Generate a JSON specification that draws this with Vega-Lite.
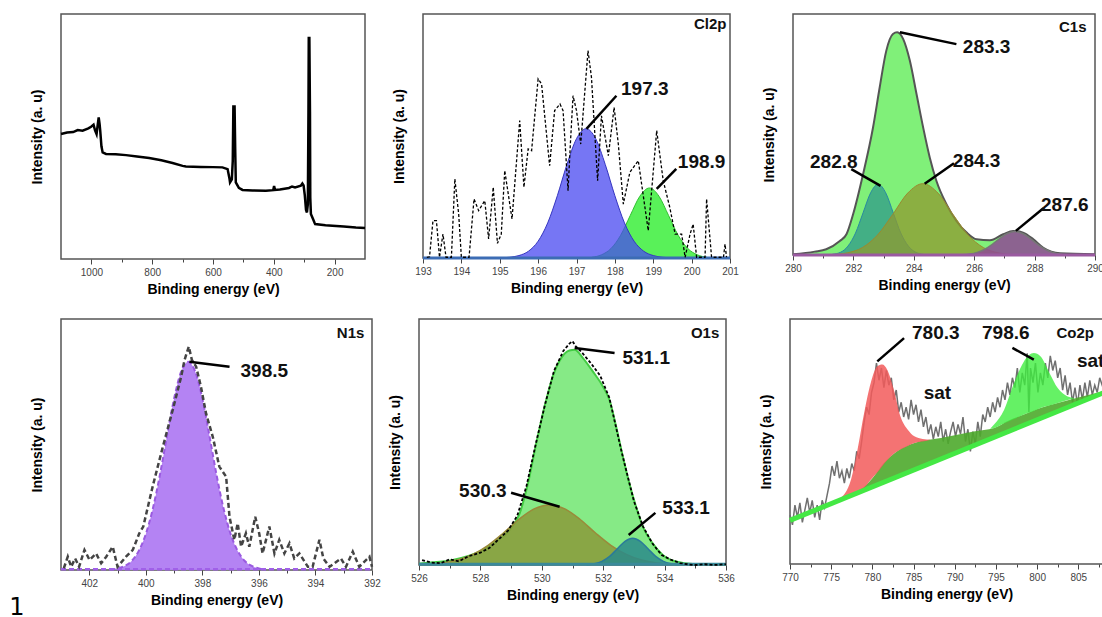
{
 "$schema": "https://vega.github.io/schema/vega-lite/v6.json",
 "background": "white",
 "padding": {"left": 9, "top": 13, "right": 0, "bottom": 0},
 "config": {
  "font": "Liberation Sans",
  "view": {"stroke": "#555", "strokeWidth": 1.5},
  "axis": {"grid": false, "domain": false, "titleFontSize": 14, "titleFontWeight": "bold", "titleColor": "#000", "labelFontSize": 10, "labelColor": "#444", "tickColor": "#444", "labelOverlap": false, "labelFlush": false},
  "axisY": {"labels": false, "ticks": false, "titlePadding": 17},
  "axisX": {"titlePadding": 5, "labelPadding": 3}
 },
 "title": {"text": "1", "orient": "bottom", "anchor": "start", "fontSize": 24, "fontWeight": "normal", "font": "DejaVu Sans", "color": "#000", "dx": -20, "dy": -16},
 "datasets": {
  "survey": [{"e":1100,"v":51},{"e":1080,"v":51.6},{"e":1060,"v":51.8},{"e":1045,"v":52.6},{"e":1029,"v":52.4},{"e":1010,"v":53.3},{"e":1001,"v":54},{"e":993,"v":54.8},{"e":988,"v":52.5},{"e":983,"v":51},{"e":980,"v":54},{"e":976,"v":57.8},{"e":973,"v":55},{"e":971,"v":52.4},{"e":967,"v":46},{"e":963,"v":43.5},{"e":952,"v":42.9},{"e":920,"v":42.8},{"e":886,"v":42.4},{"e":850,"v":41.8},{"e":810,"v":41.2},{"e":770,"v":40.3},{"e":733,"v":39.2},{"e":700,"v":38},{"e":689,"v":37.8},{"e":640,"v":37.6},{"e":600,"v":37.5},{"e":569,"v":37.4},{"e":552,"v":36.7},{"e":546,"v":33},{"e":544,"v":31.3},{"e":538,"v":32.5},{"e":535,"v":40},{"e":533,"v":62.2},{"e":529,"v":62.2},{"e":527,"v":45},{"e":525,"v":31.3},{"e":515,"v":29},{"e":503,"v":28.2},{"e":470,"v":28},{"e":426,"v":27.9},{"e":402,"v":28.1},{"e":399,"v":29.8},{"e":396,"v":28.2},{"e":380,"v":28.4},{"e":350,"v":29.0},{"e":340,"v":29.6},{"e":330,"v":29.2},{"e":311,"v":29.9},{"e":306,"v":30.8},{"e":302,"v":30},{"e":298,"v":26},{"e":294,"v":20},{"e":291,"v":19},{"e":288,"v":22.4},{"e":286,"v":60},{"e":285,"v":90.2},{"e":283,"v":90.2},{"e":281,"v":60},{"e":280,"v":25},{"e":278,"v":18.4},{"e":271,"v":16.3},{"e":266,"v":14.8},{"e":264,"v":14.3},{"e":230,"v":13.8},{"e":207,"v":13.6},{"e":170,"v":13.3},{"e":130,"v":12.9},{"e":100,"v":12.7}],
  "clRaw": [{"e":193.1,"v":0.3},{"e":193.17,"v":0.5},{"e":193.26,"v":15.3},{"e":193.35,"v":15.3},{"e":193.43,"v":0.3},{"e":193.52,"v":9.8},{"e":193.6,"v":0.3},{"e":193.74,"v":0.3},{"e":193.83,"v":32.4},{"e":193.93,"v":18},{"e":194.0,"v":0.3},{"e":194.2,"v":0.3},{"e":194.33,"v":24.2},{"e":194.45,"v":19.4},{"e":194.61,"v":23.5},{"e":194.71,"v":7.8},{"e":194.83,"v":29},{"e":194.94,"v":6},{"e":195.04,"v":9.8},{"e":195.13,"v":35.8},{"e":195.32,"v":16},{"e":195.52,"v":56.3},{"e":195.63,"v":29},{"e":195.74,"v":44.7},{"e":195.83,"v":44},{"e":196.0,"v":73.4},{"e":196.09,"v":71.3},{"e":196.3,"v":37.8},{"e":196.43,"v":60.4},{"e":196.57,"v":63.1},{"e":196.65,"v":60.4},{"e":196.78,"v":27.6},{"e":196.84,"v":46.7},{"e":196.91,"v":66.5},{"e":197.0,"v":60.4},{"e":197.11,"v":46.7},{"e":197.3,"v":85},{"e":197.39,"v":74},{"e":197.55,"v":31.7},{"e":197.65,"v":58.3},{"e":197.83,"v":41.9},{"e":197.98,"v":61.7},{"e":198.09,"v":46.7},{"e":198.22,"v":22.1},{"e":198.39,"v":35.1},{"e":198.61,"v":39.9},{"e":198.87,"v":11.2},{"e":199.09,"v":52.2},{"e":199.26,"v":31.7},{"e":199.43,"v":20.8},{"e":199.57,"v":9.8},{"e":199.74,"v":9.8},{"e":199.83,"v":0.3},{"e":199.96,"v":9.8},{"e":200.04,"v":13.9},{"e":200.13,"v":0.3},{"e":200.35,"v":0.3},{"e":200.39,"v":24.2},{"e":200.52,"v":0.3},{"e":200.83,"v":0.3},{"e":200.87,"v":5.7},{"e":200.91,"v":0.3}],
  "clBlue": [{"e":195.0,"v":0.07},{"e":195.25,"v":0.3},{"e":195.5,"v":1.0},{"e":195.75,"v":2.8},{"e":196.0,"v":6.9},{"e":196.25,"v":14.4},{"e":196.5,"v":25.5},{"e":196.75,"v":38.3},{"e":197.0,"v":48.9},{"e":197.25,"v":53},{"e":197.5,"v":48.9},{"e":197.75,"v":38.3},{"e":198.0,"v":25.5},{"e":198.25,"v":14.4},{"e":198.5,"v":6.9},{"e":198.75,"v":2.8},{"e":199.0,"v":1.0},{"e":199.25,"v":0.3},{"e":199.5,"v":0.07}],
  "clGreen": [{"e":197.4,"v":0.3},{"e":197.65,"v":1.3},{"e":197.9,"v":3.9},{"e":198.15,"v":9.3},{"e":198.4,"v":17.4},{"e":198.65,"v":25.3},{"e":198.9,"v":28.7},{"e":199.15,"v":25.3},{"e":199.4,"v":17.4},{"e":199.65,"v":9.3},{"e":199.9,"v":3.9},{"e":200.15,"v":1.3},{"e":200.4,"v":0.3}],
  "clBase": [{"e":193,"v":0},{"e":201,"v":0}],
  "clText": [{"e":198.78,"v":69.3,"t":"197.3"},{"e":200.26,"v":39.2,"t":"198.9"}],
  "clLead": [{"e":198.04,"v":66.5,"e2":197.26,"v2":52.9},{"e":199.6,"v":36.5,"e2":199.09,"v2":28.3}],
  "clName": [{"e":200.91,"v":95.9,"t":"Cl2p"}],
  "cEnv": [{"e":280,"v":0.3},{"e":280.72,"v":1.4},{"e":281.1,"v":2.4},{"e":281.55,"v":5.8},{"e":281.77,"v":8.6},{"e":281.99,"v":16.9},{"e":282.32,"v":33.5},{"e":282.65,"v":52.9},{"e":282.87,"v":69.5},{"e":283.09,"v":84.8},{"e":283.31,"v":91.7},{"e":283.45,"v":92.4},{"e":283.65,"v":89.6},{"e":283.87,"v":80.6},{"e":284.09,"v":66.8},{"e":284.31,"v":52.9},{"e":284.53,"v":40.4},{"e":284.75,"v":30.7},{"e":285.08,"v":21.1},{"e":285.41,"v":14.1},{"e":285.75,"v":9.3},{"e":286.08,"v":6.5},{"e":286.52,"v":6.1},{"e":286.96,"v":8.6},{"e":287.29,"v":10.0},{"e":287.62,"v":9.3},{"e":287.96,"v":6.5},{"e":288.29,"v":3.0},{"e":288.84,"v":0.7},{"e":290,"v":0.3}],
  "cTeal": [{"e":281.3,"v":0.3},{"e":281.57,"v":1.1},{"e":281.82,"v":3.7},{"e":282.07,"v":9.1},{"e":282.32,"v":17.5},{"e":282.57,"v":25.8},{"e":282.82,"v":29.4},{"e":283.07,"v":25.8},{"e":283.32,"v":17.5},{"e":283.57,"v":9.1},{"e":283.82,"v":3.7},{"e":284.07,"v":1.1},{"e":284.32,"v":0.3}],
  "cOlive": [{"e":281.3,"v":0.2},{"e":281.8,"v":0.9},{"e":282.3,"v":3.1},{"e":282.8,"v":8.3},{"e":283.3,"v":16.8},{"e":283.8,"v":25.7},{"e":284.3,"v":29.6},{"e":284.8,"v":25.7},{"e":285.3,"v":16.8},{"e":285.8,"v":8.3},{"e":286.3,"v":3.1},{"e":286.8,"v":0.9},{"e":287.3,"v":0.2}],
  "cPurple": [{"e":285.6,"v":0.1},{"e":285.85,"v":0.4},{"e":286.1,"v":1.1},{"e":286.35,"v":2.4},{"e":286.6,"v":4.4},{"e":286.85,"v":6.9},{"e":287.1,"v":8.9},{"e":287.35,"v":9.7},{"e":287.6,"v":8.9},{"e":287.85,"v":6.9},{"e":288.1,"v":4.4},{"e":288.35,"v":2.4},{"e":288.6,"v":1.1},{"e":288.85,"v":0.4},{"e":289.1,"v":0.1}],
  "cBase": [{"e":280,"v":0},{"e":290,"v":0}],
  "cText": [{"e":286.41,"v":86.1,"t":"283.3"},{"e":281.35,"v":38.4,"t":"282.8"},{"e":286.08,"v":39,"t":"284.3"},{"e":289.0,"v":20.8,"t":"287.6"}],
  "cLead": [{"e":285.41,"v":87.5,"e2":283.54,"v2":92.4},{"e":281.93,"v":35.6,"e2":282.9,"v2":28.7},{"e":285.33,"v":38.1,"e2":284.36,"v2":29.6},{"e":288.29,"v":19.4,"e2":287.38,"v2":10}],
  "cName": [{"e":289.72,"v":94.5,"t":"C1s"}],
  "nFit": [{"e":401.25,"v":0.2},{"e":401.0,"v":0.6},{"e":400.75,"v":1.6},{"e":400.5,"v":3.6},{"e":400.25,"v":7.6},{"e":400.0,"v":14.3},{"e":399.75,"v":24.5},{"e":399.5,"v":38},{"e":399.25,"v":53.5},{"e":399.0,"v":68.3},{"e":398.75,"v":79},{"e":398.5,"v":83},{"e":398.25,"v":79},{"e":398.0,"v":68.3},{"e":397.75,"v":53.5},{"e":397.5,"v":38},{"e":397.25,"v":24.5},{"e":397.0,"v":14.3},{"e":396.75,"v":7.6},{"e":396.5,"v":3.6},{"e":396.25,"v":1.6},{"e":396.0,"v":0.6},{"e":395.75,"v":0.2}],
  "nRaw": [{"e":402.9,"v":0.7},{"e":402.76,"v":5.3},{"e":402.64,"v":1.3},{"e":402.5,"v":4.6},{"e":402.36,"v":1.3},{"e":402.17,"v":8},{"e":401.99,"v":4},{"e":401.76,"v":6.6},{"e":401.58,"v":2.7},{"e":401.4,"v":5.3},{"e":401.17,"v":9.3},{"e":401.0,"v":1.3},{"e":400.7,"v":5.3},{"e":400.46,"v":8},{"e":400.23,"v":14.6},{"e":400.09,"v":17.3},{"e":399.76,"v":33.2},{"e":399.4,"v":49},{"e":399.05,"v":63.7},{"e":398.75,"v":77},{"e":398.63,"v":83.7},{"e":398.48,"v":89},{"e":398.37,"v":83.7},{"e":398.22,"v":81},{"e":398.05,"v":73},{"e":397.87,"v":62.4},{"e":397.63,"v":53},{"e":397.4,"v":41.2},{"e":397.16,"v":37.2},{"e":397.04,"v":21.2},{"e":396.87,"v":12},{"e":396.75,"v":18.6},{"e":396.63,"v":9.3},{"e":396.46,"v":14.6},{"e":396.34,"v":9.3},{"e":396.13,"v":21.2},{"e":395.99,"v":14.6},{"e":395.87,"v":6.6},{"e":395.63,"v":17.3},{"e":395.45,"v":6.6},{"e":395.28,"v":12},{"e":395.1,"v":6.6},{"e":394.92,"v":10.6},{"e":394.75,"v":4.6},{"e":394.57,"v":6.6},{"e":394.27,"v":1.3},{"e":394.1,"v":1.3},{"e":393.86,"v":12},{"e":393.72,"v":4.6},{"e":393.5,"v":1.3},{"e":393.1,"v":4.6},{"e":392.92,"v":1.3},{"e":392.68,"v":7.3},{"e":392.45,"v":1.3},{"e":392.09,"v":5.3},{"e":392.0,"v":1.3}],
  "nBase": [{"e":392,"v":0.3},{"e":403,"v":0.3}],
  "nText": [{"e":395.81,"v":79.4,"t":"398.5"}],
  "nLead": [{"e":397.04,"v":81,"e2":398.46,"v2":83}],
  "nName": [{"e":392.27,"v":94.6,"t":"N1s"}],
  "oEnv": [{"e":526.0,"v":0.5},{"e":526.13,"v":0.7},{"e":527.1,"v":2.0},{"e":527.97,"v":5.4},{"e":528.52,"v":9.5},{"e":528.95,"v":14.2},{"e":529.28,"v":21},{"e":529.55,"v":33.2},{"e":529.82,"v":49.5},{"e":530.09,"v":64.4},{"e":530.36,"v":76.7},{"e":530.63,"v":84.1},{"e":530.9,"v":87.2},{"e":531.07,"v":87.5},{"e":531.34,"v":84.1},{"e":531.66,"v":78.7},{"e":531.99,"v":72.6},{"e":532.2,"v":67.2},{"e":532.42,"v":56.3},{"e":532.64,"v":44.1},{"e":532.85,"v":33.2},{"e":533.07,"v":23.7},{"e":533.29,"v":15.6},{"e":533.61,"v":8.8},{"e":533.94,"v":4.1},{"e":534.37,"v":1.4},{"e":534.92,"v":0.4},{"e":536,"v":0.3}],
  "oRaw": [{"e":526.1,"v":2.0},{"e":526.4,"v":1.0},{"e":526.7,"v":0.7},{"e":527.0,"v":2.3},{"e":527.3,"v":1.5},{"e":527.6,"v":3.5},{"e":528.0,"v":5.0},{"e":528.3,"v":7.0},{"e":528.6,"v":10.5},{"e":528.9,"v":14.0},{"e":529.2,"v":20},{"e":529.5,"v":32},{"e":529.8,"v":49},{"e":530.1,"v":65},{"e":530.4,"v":79},{"e":530.7,"v":87},{"e":530.9,"v":90},{"e":531.0,"v":91},{"e":531.1,"v":89},{"e":531.3,"v":86.5},{"e":531.6,"v":82},{"e":531.9,"v":77},{"e":532.2,"v":68},{"e":532.4,"v":57},{"e":532.6,"v":46},{"e":532.8,"v":36},{"e":533.0,"v":26},{"e":533.3,"v":15.6},{"e":533.6,"v":8.8},{"e":533.9,"v":4.1},{"e":534.2,"v":2.2},{"e":534.5,"v":0.8},{"e":534.8,"v":0.2},{"e":535.0,"v":0},{"e":535.3,"v":0.3},{"e":535.6,"v":0},{"e":536,"v":0.3}],
  "oOlive": [{"e":526.25,"v":0.3},{"e":526.75,"v":0.8},{"e":527.25,"v":2.0},{"e":527.75,"v":4.3},{"e":528.25,"v":8},{"e":528.75,"v":13},{"e":529.25,"v":18.5},{"e":529.75,"v":22.8},{"e":530.25,"v":24.4},{"e":530.75,"v":22.8},{"e":531.25,"v":18.5},{"e":531.75,"v":13},{"e":532.25,"v":8},{"e":532.75,"v":4.3},{"e":533.25,"v":2.0},{"e":533.75,"v":0.8},{"e":534.25,"v":0.3}],
  "oTeal": [{"e":531.46,"v":0.1},{"e":531.71,"v":0.5},{"e":531.96,"v":1.5},{"e":532.21,"v":3.5},{"e":532.46,"v":6.6},{"e":532.71,"v":9.6},{"e":532.96,"v":10.9},{"e":533.21,"v":9.6},{"e":533.46,"v":6.6},{"e":533.71,"v":3.5},{"e":533.96,"v":1.5},{"e":534.21,"v":0.5},{"e":534.46,"v":0.1}],
  "oBase": [{"e":526,"v":0.3},{"e":536,"v":0.3}],
  "oText": [{"e":533.4,"v":84.1,"t":"531.1"},{"e":528.08,"v":29.9,"t":"530.3"},{"e":534.7,"v":23.1,"t":"533.1"}],
  "oLead": [{"e":532.37,"v":86.2,"e2":531.07,"v2":88.2},{"e":529.0,"v":29.4,"e2":530.58,"v2":23.7},{"e":533.7,"v":21.2,"e2":532.83,"v2":12.2}],
  "oName": [{"e":535.78,"v":94.3,"t":"O1s"}],
  "coRaw": [{"e":770.0,"v":20},{"e":770.3,"v":16},{"e":770.6,"v":24},{"e":770.9,"v":19},{"e":771.2,"v":25},{"e":771.5,"v":17},{"e":771.8,"v":22},{"e":772.1,"v":27},{"e":772.4,"v":21},{"e":772.7,"v":26},{"e":773.0,"v":19},{"e":773.3,"v":24},{"e":773.6,"v":18},{"e":773.9,"v":26},{"e":774.2,"v":23},{"e":774.5,"v":28},{"e":774.8,"v":33},{"e":775.1,"v":40},{"e":775.4,"v":36},{"e":775.7,"v":42},{"e":776.0,"v":35},{"e":776.3,"v":38},{"e":776.6,"v":33},{"e":776.9,"v":39},{"e":777.2,"v":35},{"e":777.5,"v":41},{"e":777.8,"v":38},{"e":778.1,"v":46},{"e":778.4,"v":43},{"e":778.7,"v":50},{"e":779.0,"v":58},{"e":779.3,"v":64},{"e":779.6,"v":61},{"e":779.9,"v":70},{"e":780.2,"v":74},{"e":780.5,"v":82},{"e":780.8,"v":75},{"e":781.1,"v":80},{"e":781.4,"v":72},{"e":781.7,"v":79},{"e":782.0,"v":73},{"e":782.3,"v":76},{"e":782.6,"v":67},{"e":782.9,"v":71},{"e":783.2,"v":62},{"e":783.5,"v":66},{"e":783.8,"v":60},{"e":784.1,"v":64},{"e":784.4,"v":59},{"e":784.7,"v":67},{"e":785.0,"v":61},{"e":785.3,"v":65},{"e":785.6,"v":58},{"e":785.9,"v":63},{"e":786.2,"v":56},{"e":786.5,"v":60},{"e":786.8,"v":53},{"e":787.1,"v":57},{"e":787.4,"v":51},{"e":787.7,"v":56},{"e":788.0,"v":52},{"e":788.3,"v":58},{"e":788.6,"v":50},{"e":788.9,"v":55},{"e":789.2,"v":49},{"e":789.5,"v":54},{"e":789.8,"v":58},{"e":790.1,"v":52},{"e":790.4,"v":57},{"e":790.7,"v":53},{"e":791.0,"v":60},{"e":791.3,"v":50},{"e":791.6,"v":55},{"e":791.9,"v":46},{"e":792.2,"v":54},{"e":792.5,"v":49},{"e":792.8,"v":58},{"e":793.1,"v":52},{"e":793.4,"v":61},{"e":793.7,"v":58},{"e":794.0,"v":64},{"e":794.3,"v":60},{"e":794.6,"v":66},{"e":794.9,"v":62},{"e":795.2,"v":68},{"e":795.5,"v":64},{"e":795.8,"v":71},{"e":796.1,"v":67},{"e":796.4,"v":74},{"e":796.7,"v":69},{"e":797.0,"v":76},{"e":797.3,"v":72},{"e":797.6,"v":80},{"e":797.9,"v":70},{"e":798.2,"v":78},{"e":798.5,"v":73},{"e":798.8,"v":86},{"e":799.0,"v":62},{"e":799.2,"v":80},{"e":799.5,"v":74},{"e":799.8,"v":82},{"e":800.1,"v":70},{"e":800.4,"v":78},{"e":800.7,"v":73},{"e":801.0,"v":82},{"e":801.3,"v":76},{"e":801.6,"v":85},{"e":801.9,"v":79},{"e":802.2,"v":83},{"e":802.5,"v":76},{"e":802.8,"v":80},{"e":803.1,"v":71},{"e":803.4,"v":77},{"e":803.7,"v":69},{"e":804.0,"v":74},{"e":804.3,"v":66},{"e":804.6,"v":72},{"e":804.9,"v":65},{"e":805.2,"v":73},{"e":805.5,"v":67},{"e":805.8,"v":74},{"e":806.1,"v":68},{"e":806.4,"v":75},{"e":806.7,"v":69},{"e":807.0,"v":73},{"e":807.3,"v":70},{"e":807.6,"v":76},{"e":808.0,"v":72}],
  "coShirley": [{"e":770,"v":18.6,"b":17.8},{"e":774,"v":23.8,"b":23.3},{"e":776,"v":26.5,"b":26.0},{"e":778,"v":29.5,"b":28.7},{"e":779,"v":31.5,"b":30.1},{"e":780.2,"v":35.8,"b":31.8},{"e":781.4,"v":41.2,"b":33.4},{"e":783,"v":46,"b":35.6},{"e":785.1,"v":49.4,"b":38.5},{"e":788.3,"v":51.4,"b":42.8},{"e":792.3,"v":54.1,"b":48.3},{"e":794.8,"v":55.5,"b":51.7},{"e":796.5,"v":58.5,"b":54.1},{"e":798.4,"v":61,"b":56.6},{"e":800.5,"v":63.8,"b":59.5},{"e":802.5,"v":65.7,"b":62.3},{"e":805,"v":68,"b":65.7},{"e":808,"v":70.5,"b":69.8}],
  "coRed": [{"e":776,"v":26.5,"b":26.5},{"e":777.4,"v":34.4,"b":28.5},{"e":778.2,"v":46.7,"b":29.8},{"e":779,"v":61.6,"b":31.2},{"e":779.8,"v":73.9,"b":34.4},{"e":780.6,"v":80.7,"b":37.3},{"e":781.2,"v":81.4,"b":39.9},{"e":781.8,"v":79.3,"b":42.3},{"e":782.6,"v":71.2,"b":45},{"e":783.4,"v":60.3,"b":46.7},{"e":784.3,"v":54.8,"b":48.2},{"e":785.1,"v":52.1,"b":49.4},{"e":786.1,"v":51,"b":50},{"e":787.1,"v":50.7,"b":50.7}],
  "coGreen": [{"e":794.3,"v":55.2,"b":55.2},{"e":794.8,"v":57,"b":55.5},{"e":796,"v":63,"b":57.4},{"e":797.2,"v":73.9,"b":59.2},{"e":798.4,"v":82.7,"b":61},{"e":799.6,"v":86.1,"b":62.4},{"e":800.4,"v":84.8,"b":63.7},{"e":801.5,"v":78,"b":64.7},{"e":802.5,"v":71.8,"b":65.7},{"e":803.7,"v":68.4,"b":66.9},{"e":804.5,"v":67.8,"b":67.6}],
  "coLin": [{"e":770,"v":17.8},{"e":808,"v":69.8}],
  "coText": [{"e":787.7,"v":94.3,"t":"780.3"},{"e":796.2,"v":94.3,"t":"798.6"},{"e":787.9,"v":69.8,"t":"sat"},{"e":806.5,"v":82.7,"t":"sat"}],
  "coLead": [{"e":783.85,"v":92.2,"e2":780.6,"v2":82.7},{"e":797,"v":88.2,"e2":799.6,"v2":83.4}],
  "coName": [{"e":806.9,"v":94.3,"t":"Co2p"}]
 },
 "spacing": 21,
 "vconcat": [
  {"hconcat": [
   {"hconcat": [
    {"width": 304, "height": 245,
     "encoding": {
      "x": {"field": "e", "type": "quantitative", "title": "Binding energy (eV)", "scale": {"domain": [100, 1100], "reverse": true, "nice": false, "zero": false},
            "axis": {"format": "d", "values": [200,300,400,500,600,700,800,900,1000], "labelExpr": "datum.value % 200 === 0 ? datum.label : ''", "tickSize": {"condition": {"test": "datum.value % 200 === 0", "value": 5}, "value": 3}}},
      "y": {"field": "v", "type": "quantitative", "title": "Intensity (a. u)", "scale": {"domain": [0, 100], "nice": false, "zero": false}, "stack": null}
     },
     "layer": [
      {"data": {"name": "survey"}, "mark": {"type": "line", "color": "#000", "strokeWidth": 2.5}, "encoding": {}}
     ]},
    {"width": 307, "height": 244,
     "encoding": {
      "x": {"field": "e", "type": "quantitative", "title": "Binding energy (eV)", "scale": {"domain": [193, 201], "nice": false, "zero": false},
            "axis": {"values": [193,194,195,196,197,198,199,200,201], "tickSize": 5}},
      "y": {"field": "v", "type": "quantitative", "title": "Intensity (a. u)", "scale": {"domain": [0, 100], "nice": false, "zero": false}, "stack": null}
     },
     "layer": [
      {"data": {"name": "clGreen"}, "mark": {"type": "area", "interpolate": "monotone", "color": "#3cee3c", "opacity": 0.85, "line": {"color": "#30c030", "strokeWidth": 1}}, "encoding": {}},
      {"data": {"name": "clBlue"}, "mark": {"type": "area", "interpolate": "monotone", "color": "#4848f0", "opacity": 0.75, "line": {"color": "#3535c0", "strokeWidth": 1}}, "encoding": {}},
      {"data": {"name": "clBase"}, "mark": {"type": "line", "color": "#3c6cb4", "strokeWidth": 3}, "encoding": {}},
      {"data": {"name": "clRaw"}, "mark": {"type": "line", "color": "#000", "strokeWidth": 1.3, "strokeDash": [3, 2]}, "encoding": {}},
      {"data": {"name": "clLead"}, "mark": {"type": "rule", "color": "#000", "strokeWidth": 2.5}, "encoding": {"x2": {"field": "e2"}, "y2": {"field": "v2"}}},
      {"data": {"name": "clText"}, "mark": {"type": "text", "fontSize": 19, "fontWeight": "bold", "align": "center", "baseline": "middle", "color": "#111"}, "encoding": {"text": {"field": "t"}}},
      {"data": {"name": "clName"}, "mark": {"type": "text", "fontSize": 15, "fontWeight": "bold", "align": "right", "baseline": "middle", "color": "#111"}, "encoding": {"text": {"field": "t"}}}
     ]}
   ], "spacing": 20},
   {"width": 302, "height": 241,
    "encoding": {
     "x": {"field": "e", "type": "quantitative", "title": "Binding energy (eV)", "scale": {"domain": [280, 290], "nice": false, "zero": false},
           "axis": {"values": [280,281,282,283,284,285,286,287,288,289,290], "labelExpr": "datum.value % 2 === 0 ? datum.label : ''", "tickSize": {"condition": {"test": "datum.value % 2 === 0", "value": 5}, "value": 3}}},
     "y": {"field": "v", "type": "quantitative", "title": "Intensity (a. u)", "scale": {"domain": [0, 100], "nice": false, "zero": false}, "stack": null}
    },
    "layer": [
     {"data": {"name": "cEnv"}, "mark": {"type": "area", "interpolate": "monotone", "color": "#72ee6a", "opacity": 0.9, "line": {"color": "#555", "strokeWidth": 2}}, "encoding": {}},
     {"data": {"name": "cTeal"}, "mark": {"type": "area", "interpolate": "monotone", "color": "#2f9a8a", "opacity": 0.75, "line": {"color": "#2a8aa0", "strokeWidth": 1}}, "encoding": {}},
     {"data": {"name": "cOlive"}, "mark": {"type": "area", "interpolate": "monotone", "color": "#8f9a30", "opacity": 0.75, "line": {"color": "#9a8a30", "strokeWidth": 1}}, "encoding": {}},
     {"data": {"name": "cPurple"}, "mark": {"type": "area", "interpolate": "monotone", "color": "#8e4a94", "opacity": 0.85, "line": {"color": "#777", "strokeWidth": 1.5}}, "encoding": {}},
     {"data": {"name": "cBase"}, "mark": {"type": "line", "color": "#9a5aa0", "strokeWidth": 3}, "encoding": {}},
     {"data": {"name": "cLead"}, "mark": {"type": "rule", "color": "#000", "strokeWidth": 2.5}, "encoding": {"x2": {"field": "e2"}, "y2": {"field": "v2"}}},
     {"data": {"name": "cText"}, "mark": {"type": "text", "fontSize": 19, "fontWeight": "bold", "align": "center", "baseline": "middle", "color": "#111"}, "encoding": {"text": {"field": "t"}}},
     {"data": {"name": "cName"}, "mark": {"type": "text", "fontSize": 15, "fontWeight": "bold", "align": "right", "baseline": "middle", "color": "#111"}, "encoding": {"text": {"field": "t"}}}
    ]}
  ], "spacing": 21},
  {"hconcat": [
   {"hconcat": [
    {"width": 311, "height": 251,
     "encoding": {
      "x": {"field": "e", "type": "quantitative", "title": "Binding energy (eV)", "scale": {"domain": [392, 403], "reverse": true, "nice": false, "zero": false},
            "axis": {"values": [392,393,394,395,396,397,398,399,400,401,402], "labelExpr": "datum.value % 2 === 0 ? datum.label : ''", "tickSize": {"condition": {"test": "datum.value % 2 === 0", "value": 5}, "value": 3}}},
      "y": {"field": "v", "type": "quantitative", "title": "Intensity (a. u)", "scale": {"domain": [0, 100], "nice": false, "zero": false}, "stack": null}
     },
     "layer": [
      {"data": {"name": "nFit"}, "mark": {"type": "area", "interpolate": "monotone", "color": "#b07cf2", "opacity": 0.95, "line": {"color": "#9a5ae0", "strokeWidth": 2, "strokeDash": [5, 3]}}, "encoding": {}},
      {"data": {"name": "nBase"}, "mark": {"type": "line", "color": "#a060e8", "strokeWidth": 2.5, "strokeDash": [5, 3]}, "encoding": {}},
      {"data": {"name": "nRaw"}, "mark": {"type": "line", "color": "#444", "strokeWidth": 2.5, "strokeDash": [5, 3]}, "encoding": {}},
      {"data": {"name": "nLead"}, "mark": {"type": "rule", "color": "#000", "strokeWidth": 2.5}, "encoding": {"x2": {"field": "e2"}, "y2": {"field": "v2"}}},
      {"data": {"name": "nText"}, "mark": {"type": "text", "fontSize": 19, "fontWeight": "bold", "align": "center", "baseline": "middle", "color": "#111"}, "encoding": {"text": {"field": "t"}}},
      {"data": {"name": "nName"}, "mark": {"type": "text", "fontSize": 15, "fontWeight": "bold", "align": "right", "baseline": "middle", "color": "#111"}, "encoding": {"text": {"field": "t"}}}
     ]},
    {"width": 307, "height": 246,
     "encoding": {
      "x": {"field": "e", "type": "quantitative", "title": "Binding energy (eV)", "scale": {"domain": [526, 536], "nice": false, "zero": false},
            "axis": {"values": [526,527,528,529,530,531,532,533,534,535,536], "labelExpr": "datum.value % 2 === 0 ? datum.label : ''", "tickSize": {"condition": {"test": "datum.value % 2 === 0", "value": 5}, "value": 3}}},
      "y": {"field": "v", "type": "quantitative", "title": "Intensity (a. u)", "scale": {"domain": [0, 100], "nice": false, "zero": false}, "stack": null}
     },
     "layer": [
      {"data": {"name": "oEnv"}, "mark": {"type": "area", "interpolate": "monotone", "color": "#86ea86", "opacity": 1, "line": {"color": "#44cc44", "strokeWidth": 2}}, "encoding": {}},
      {"data": {"name": "oOlive"}, "mark": {"type": "area", "interpolate": "monotone", "color": "#8a9a3a", "opacity": 0.85, "line": {"color": "#9a8a3a", "strokeWidth": 1.5}}, "encoding": {}},
      {"data": {"name": "oTeal"}, "mark": {"type": "area", "interpolate": "monotone", "color": "#2a8a8a", "opacity": 0.85, "line": {"color": "#2a7a9a", "strokeWidth": 1.5}}, "encoding": {}},
      {"data": {"name": "oBase"}, "mark": {"type": "line", "color": "#3a8a9a", "strokeWidth": 3}, "encoding": {}},
      {"data": {"name": "oRaw"}, "mark": {"type": "line", "color": "#000", "strokeWidth": 1.8, "strokeDash": [3, 2]}, "encoding": {}},
      {"data": {"name": "oLead"}, "mark": {"type": "rule", "color": "#000", "strokeWidth": 2.5}, "encoding": {"x2": {"field": "e2"}, "y2": {"field": "v2"}}},
      {"data": {"name": "oText"}, "mark": {"type": "text", "fontSize": 19, "fontWeight": "bold", "align": "center", "baseline": "middle", "color": "#111"}, "encoding": {"text": {"field": "t"}}},
      {"data": {"name": "oName"}, "mark": {"type": "text", "fontSize": 15, "fontWeight": "bold", "align": "right", "baseline": "middle", "color": "#111"}, "encoding": {"text": {"field": "t"}}}
     ]}
   ], "spacing": 5},
   {"width": 313, "height": 245,
    "encoding": {
     "x": {"field": "e", "type": "quantitative", "title": "Binding energy (eV)", "scale": {"domain": [770, 808], "nice": false, "zero": false},
           "axis": {"values": [770,772.5,775,777.5,780,782.5,785,787.5,790,792.5,795,797.5,800,802.5,805,807.5], "labelExpr": "datum.value % 5 === 0 ? datum.label : ''", "tickSize": {"condition": {"test": "datum.value % 5 === 0", "value": 5}, "value": 3}}},
     "y": {"field": "v", "type": "quantitative", "title": "Intensity (a. u)", "scale": {"domain": [0, 100], "nice": false, "zero": false}, "stack": null}
    },
    "layer": [
     {"data": {"name": "coRaw"}, "mark": {"type": "line", "color": "#707070", "strokeWidth": 1.5}, "encoding": {}},
     {"data": {"name": "coShirley"}, "mark": {"type": "area", "interpolate": "monotone", "color": "#4eaa2c", "opacity": 0.9}, "encoding": {"y2": {"field": "b"}}},
     {"data": {"name": "coRed"}, "mark": {"type": "area", "interpolate": "monotone", "color": "#f25a5a", "opacity": 0.85}, "encoding": {"y2": {"field": "b"}}},
     {"data": {"name": "coGreen"}, "mark": {"type": "area", "interpolate": "monotone", "color": "#3eee3e", "opacity": 0.8}, "encoding": {"y2": {"field": "b"}}},
     {"data": {"name": "coLin"}, "mark": {"type": "line", "color": "#44e844", "strokeWidth": 5}, "encoding": {}},
     {"data": {"name": "coLead"}, "mark": {"type": "rule", "color": "#000", "strokeWidth": 2.5}, "encoding": {"x2": {"field": "e2"}, "y2": {"field": "v2"}}},
     {"data": {"name": "coText"}, "mark": {"type": "text", "fontSize": 19, "fontWeight": "bold", "align": "center", "baseline": "middle", "color": "#111"}, "encoding": {"text": {"field": "t"}}},
     {"data": {"name": "coName"}, "mark": {"type": "text", "fontSize": 15, "fontWeight": "bold", "align": "right", "baseline": "middle", "color": "#111"}, "encoding": {"text": {"field": "t"}}}
    ]}
  ], "spacing": 22}
 ]
}
